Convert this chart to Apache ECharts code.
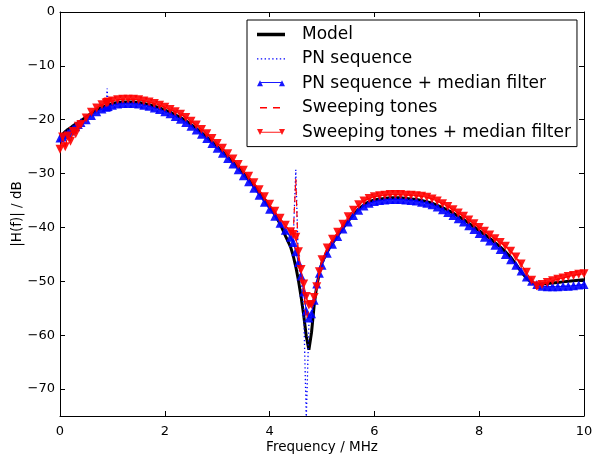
<!DOCTYPE html>
<html><head><meta charset="utf-8">
<script src="https://cdn.jsdelivr.net/npm/echarts@6/dist/echarts.min.js"></script>
<style>html,body{margin:0;padding:0;background:#fff}#c{width:595px;height:458px}</style>
</head><body><div id="c"></div>
<script>
// Frequency grid (MHz)
const freq = [0,0.05,0.1,0.15,0.2,0.25,0.3,0.35,0.4,
  0.5,0.6,0.7,0.8,0.88,0.9,0.92,1.0,1.1,1.2,1.3,1.4,
  1.5,1.6,1.7,1.8,1.9,2.0,2.1,2.2,2.3,2.4,
  2.5,2.6,2.7,2.8,2.9,3.0,3.1,3.2,3.3,3.4,
  3.5,3.6,3.7,3.8,3.9,4.0,4.1,4.2,4.3,4.4,
  4.45,4.5,4.55,4.6,4.65,4.7,4.75,4.8,4.85,4.9,4.95,
  5.0,5.1,5.2,5.3,5.4,5.5,5.6,5.7,5.8,5.9,
  6.0,6.1,6.2,6.3,6.4,6.5,6.6,6.7,6.8,6.9,
  7.0,7.1,7.2,7.3,7.4,7.5,7.6,7.7,7.8,7.9,
  8.0,8.1,8.2,8.3,8.4,8.5,8.6,8.7,8.8,8.9,
  9.0,9.1,9.2,9.3,9.4,9.5,9.6,9.7,9.8,9.9,
  10.0];

const model = [-23.2,-22.7,-22.2,-21.8,-21.5,-21.1,-20.8,-20.5,-20.2,
  -19.5,-18.8,-18.2,-17.7,-17.4,-17.3,-17.25,-17.0,-16.8,-16.7,-16.7,-16.7,
  -16.8,-17.0,-17.2,-17.5,-17.8,-18.2,-18.6,-19.1,-19.6,-20.2,
  -20.9,-21.6,-22.4,-23.2,-24.1,-25.0,-25.9,-26.9,-27.9,-28.9,
  -30.0,-31.1,-32.3,-33.6,-34.9,-36.2,-37.6,-39.3,-41.5,-43.6,
  -45.2,-47.3,-49.8,-52.8,-56.2,-60.2,-62.7,-59.5,-54.5,-50.8,-48.5,
  -46.5,-44.5,-42.9,-41.5,-40.1,-38.8,-37.6,-36.6,-35.8,-35.2,
  -34.9,-34.7,-34.6,-34.5,-34.5,-34.5,-34.6,-34.7,-34.8,-35.0,
  -35.2,-35.5,-35.9,-36.3,-36.8,-37.3,-37.9,-38.5,-39.2,-39.9,
  -40.6,-41.3,-42.0,-42.8,-43.6,-44.5,-45.5,-46.8,-48.2,-49.4,
  -50.2,-50.6,-50.5,-50.4,-50.3,-50.2,-50.1,-50.0,-49.9,-49.8,
  -49.7];

const pnRaw = [-23.4,-23.2,-22.8,-22.5,-22.1,-21.7,-21.3,-20.9,-20.5,
  -20.0,-19.2,-18.5,-18.0,-17.7,-14.2,-17.6,-17.3,-17.1,-17.0,-17.0,-17.0,
  -17.1,-17.3,-17.5,-17.8,-18.1,-18.5,-18.9,-19.4,-19.9,-20.5,
  -21.2,-21.9,-22.7,-23.5,-24.4,-25.3,-26.2,-27.2,-28.2,-29.3,
  -30.4,-31.5,-32.7,-34.0,-35.3,-36.6,-37.9,-39.2,-40.5,-41.8,
  -42.5,-29.3,-47.0,-50.0,-55.0,-75.5,-58.0,-57.0,-53.5,-50.5,-48.5,
  -47.0,-44.8,-43.1,-41.7,-40.3,-39.0,-37.8,-36.8,-36.0,-35.5,
  -35.2,-35.0,-34.9,-34.8,-34.8,-34.8,-34.9,-35.0,-35.1,-35.3,
  -35.5,-35.8,-36.2,-36.7,-37.2,-37.8,-38.4,-39.0,-39.7,-40.4,
  -41.1,-41.8,-42.5,-43.3,-44.1,-45.0,-46.0,-47.0,-48.1,-49.2,
  -50.0,-50.6,-50.9,-51.0,-51.0,-51.0,-50.9,-50.9,-50.8,-50.7,
  -50.6];

const pnMedian = [-23.4,-23.2,-22.8,-22.5,-22.1,-21.7,-21.3,-20.9,-20.5,
  -20.0,-19.2,-18.5,-18.0,-17.7,-17.6,-17.55,-17.3,-17.1,-17.0,-17.0,-17.0,
  -17.1,-17.3,-17.5,-17.8,-18.1,-18.5,-18.9,-19.4,-19.9,-20.5,
  -21.2,-21.9,-22.7,-23.5,-24.4,-25.3,-26.2,-27.2,-28.2,-29.3,
  -30.4,-31.5,-32.7,-34.0,-35.3,-36.6,-37.9,-39.2,-40.5,-41.8,
  -42.8,-44.5,-46.5,-49.0,-52.0,-55.5,-56.8,-56.0,-53.5,-50.5,-48.5,
  -47.0,-44.8,-43.1,-41.7,-40.3,-39.0,-37.8,-36.8,-36.0,-35.5,
  -35.2,-35.0,-34.9,-34.8,-34.8,-34.8,-34.9,-35.0,-35.1,-35.3,
  -35.5,-35.8,-36.2,-36.7,-37.2,-37.8,-38.4,-39.0,-39.7,-40.4,
  -41.1,-41.8,-42.5,-43.3,-44.1,-45.0,-46.0,-47.0,-48.1,-49.2,
  -50.0,-50.6,-50.9,-51.0,-51.0,-51.0,-50.9,-50.9,-50.8,-50.7,
  -50.6];

const sweepRaw = [-25.5,-23.2,-25.0,-23.0,-24.0,-22.2,-22.6,-21.2,-20.9,
  -19.7,-18.6,-17.8,-17.2,-16.9,-16.8,-16.7,-16.5,-16.3,-16.2,-16.2,-16.2,
  -16.3,-16.5,-16.7,-17.0,-17.3,-17.7,-18.1,-18.5,-19.0,-19.6,
  -20.3,-21.0,-21.8,-22.6,-23.5,-24.4,-25.3,-26.3,-27.3,-28.3,
  -29.4,-30.5,-31.7,-33.0,-34.3,-35.7,-37.0,-38.3,-39.6,-40.8,
  -41.3,-31.0,-46.0,-49.5,-52.0,-57.0,-55.5,-54.3,-53.0,-51.0,-48.2,
  -46.0,-43.8,-42.2,-40.9,-39.4,-38.0,-36.8,-35.8,-35.1,-34.6,
  -34.3,-34.1,-34.0,-33.9,-33.9,-33.9,-34.0,-34.0,-34.1,-34.2,
  -34.4,-34.7,-35.1,-35.6,-36.1,-36.7,-37.3,-37.9,-38.6,-39.3,
  -40.0,-40.7,-41.4,-42.1,-42.8,-43.5,-44.4,-45.5,-46.8,-48.3,
  -49.8,-51.5,-50.6,-50.2,-49.9,-49.6,-49.4,-49.1,-48.9,-48.7,
  -48.6];

const sweepMedian = [-25.5,-23.2,-25.0,-23.0,-24.0,-22.2,-22.6,-21.2,-20.9,
  -19.7,-18.6,-17.8,-17.2,-16.9,-16.8,-16.7,-16.5,-16.3,-16.2,-16.2,-16.2,
  -16.3,-16.5,-16.7,-17.0,-17.3,-17.7,-18.1,-18.5,-19.0,-19.6,
  -20.3,-21.0,-21.8,-22.6,-23.5,-24.4,-25.3,-26.3,-27.3,-28.3,
  -29.4,-30.5,-31.7,-33.0,-34.3,-35.7,-37.0,-38.3,-39.6,-40.8,
  -41.3,-41.8,-44.5,-47.8,-50.5,-52.8,-54.4,-54.3,-53.0,-51.0,-48.2,
  -46.0,-43.8,-42.2,-40.9,-39.4,-38.0,-36.8,-35.8,-35.1,-34.6,
  -34.3,-34.1,-34.0,-33.9,-33.9,-33.9,-34.0,-34.0,-34.1,-34.2,
  -34.4,-34.7,-35.1,-35.6,-36.1,-36.7,-37.3,-37.9,-38.6,-39.3,
  -40.0,-40.7,-41.4,-42.1,-42.8,-43.5,-44.4,-45.5,-46.8,-48.3,
  -49.8,-50.8,-50.6,-50.2,-49.9,-49.6,-49.4,-49.1,-48.9,-48.7,
  -48.6];

const xTicks = [0, 2, 4, 6, 8, 10];
const yTicks = [0, -10, -20, -30, -40, -50, -60, -70];
const seriesNames = ['Model', 'PN sequence', 'PN sequence + median filter', 'Sweeping tones', 'Sweeping tones + median filter'];

const FONT = 'DejaVu Sans';
const pair = arr => freq.map((f, i) => [f, arr[i]]);
const minus = v => String(v).replace('-', '\u2212');

// legend icon paths (line sample 28 px wide, padded to 40 px so text sits further right)
let dots = '';
for (let k = 0; k < 8; k++) { const x = k * 3.8; dots += 'M' + x + ' 0h1.4v1.4h-1.4Z '; }
const icons = [
  'path://M0 0H28V3.6H0Z M40 1.8',
  'path://' + dots + 'M40 0.7',
  'path://M0 6L3 0L6 6Z M22 6L25 0L28 6Z M3 1.6H25V2.6H3Z M40 3',
  'path://M0 0.75 M3 0h7v1.5h-7Z M16 0h7v1.5h-7Z M40 0.75',
  'path://M0 0L6 0L3 6Z M22 0L28 0L25 6Z M3 2.6H25V3.6H3Z M40 3'
];

const axisCommon = {
  type: 'value',
  axisLine: { show: true, onZero: false, lineStyle: { color: '#000', width: 1 } },
  splitLine: { show: false },
};

const chart = echarts.init(document.getElementById('c'), null, { renderer: 'canvas' });
chart.setOption({
  animation: false,
  backgroundColor: '#fff',
  grid: { left: 60, right: 11, top: 12, bottom: 42, containLabel: false, outerBoundsMode: 'none' },
  xAxis: [
    Object.assign({}, axisCommon, {
      min: 0, max: 10, interval: 2, position: 'bottom',
      name: 'Frequency / MHz', nameLocation: 'middle', nameGap: 24, nameMoveOverlap: false,
      nameTextStyle: { fontFamily: FONT, fontSize: 13.5, color: '#000' },
      axisTick: { show: true, inside: true, length: 5, customValues: xTicks, lineStyle: { color: '#000' } },
      axisLabel: { show: true, margin: 9, fontFamily: FONT, fontSize: 13, color: '#000', customValues: xTicks, formatter: minus }
    }),
    Object.assign({}, axisCommon, {
      min: 0, max: 10, interval: 2, position: 'top',
      axisTick: { show: true, inside: true, length: 5, customValues: xTicks, lineStyle: { color: '#000' } },
      axisLabel: { show: false }
    })
  ],
  yAxis: [
    Object.assign({}, axisCommon, {
      min: -75, max: 0, position: 'left',
      name: '|H(f)| / dB', nameLocation: 'middle', nameGap: 36, nameMoveOverlap: false,
      nameTextStyle: { fontFamily: FONT, fontSize: 13.5, color: '#000' },
      axisTick: { show: true, inside: true, length: 5, customValues: yTicks, lineStyle: { color: '#000' } },
      axisLabel: { show: true, margin: 5, fontFamily: FONT, fontSize: 13, color: '#000', customValues: yTicks, formatter: minus }
    }),
    Object.assign({}, axisCommon, {
      min: -75, max: 0, position: 'right',
      axisTick: { show: true, inside: true, length: 5, customValues: yTicks, lineStyle: { color: '#000' } },
      axisLabel: { show: false }
    })
  ],
  legend: {
    orient: 'vertical', left: 247, top: 20,
    padding: [6, 6, 6, 10], itemGap: 7.4, itemWidth: 40, itemHeight: 14,
    borderColor: '#000', borderWidth: 1, backgroundColor: '#fff',
    textStyle: { fontFamily: FONT, fontSize: 17, color: '#000' },
    itemStyle: { borderWidth: 0 },
    selectedMode: false,
    data: seriesNames.map((n, i) => ({ name: n, icon: icons[i] }))
  },
  series: [
    { name: seriesNames[0], type: 'line', data: pair(model), showSymbol: false, symbol: 'none',
      color: '#000', lineStyle: { color: '#000', width: 3 }, z: 2 },
    { name: seriesNames[1], type: 'line', data: pair(pnRaw), showSymbol: false, symbol: 'none',
      color: '#0000ff', lineStyle: { color: '#0000ff', width: 1.3, type: [1.3, 2.6] }, z: 3 },
    { name: seriesNames[2], type: 'line', data: pair(pnMedian), showSymbol: true, symbol: 'triangle', symbolSize: 9,
      color: '#0000ff', itemStyle: { color: '#0000ff', opacity: 0.9, borderWidth: 0 },
      lineStyle: { color: '#0000ff', width: 1 }, z: 4 },
    { name: seriesNames[3], type: 'line', data: pair(sweepRaw), showSymbol: false, symbol: 'none',
      color: '#ff0000', lineStyle: { color: '#ff0000', width: 1.2, type: [6, 5] }, z: 5 },
    { name: seriesNames[4], type: 'line', data: pair(sweepMedian), showSymbol: true, symbol: 'triangle', symbolRotate: 180, symbolSize: 9,
      color: '#ff0000', itemStyle: { color: '#ff0000', opacity: 0.9, borderWidth: 0 },
      lineStyle: { color: '#ff0000', width: 1 }, z: 6 }
  ]
});
</script></body></html>
